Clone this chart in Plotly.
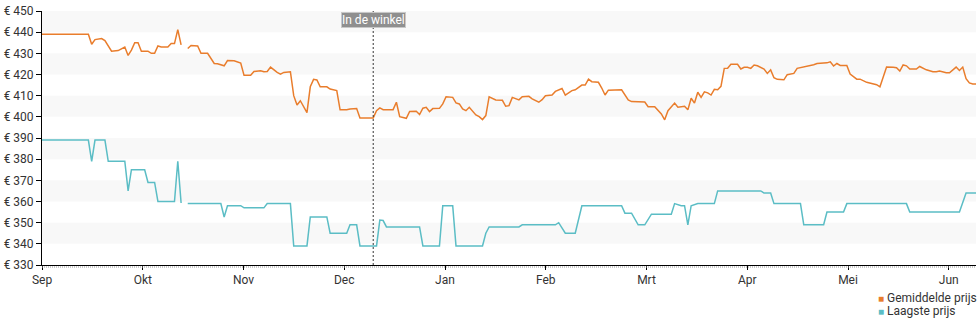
import plotly.graph_objects as go

# Month labels on the x axis (axis unit: days since the first point)
MONTHS = ["Sep", "Okt", "Nov", "Dec", "Jan", "Feb", "Mrt", "Apr", "Mei", "Jun"]
DAYS_PER_MONTH = 30.42
LAST_DAY = 282

# Average price ("Gemiddelde prijs")
AVG_DAY = [0, 14, 15, 16, 18, 19, 21, 23, 25, 26, 27, 28, 29, 30, 32, 33, 34, 35, 36, 38,
           39, 40, 41, 42, 43, 44, 45, 47, 48, 50, 52, 53, 55, 56, 58, 60, 61, 63, 64, 66,
           67, 68, 69, 71, 72, 73, 75, 76, 77, 78, 80, 81, 82, 83, 84, 86, 87, 89, 90, 92,
           93, 95, 96, 100, 101, 102, 103, 106, 107, 108, 110, 111, 113, 114, 115, 116, 117, 118, 120, 121,
           122, 124, 125, 126, 127, 128, 129, 131, 132, 133, 134, 135, 137, 139, 140, 141, 142, 144, 145, 147,
           148, 150, 151, 152, 154, 155, 157, 158, 160, 161, 163, 164, 165, 166, 168, 169, 170, 171, 173, 175,
           177, 178, 182, 183, 185, 187, 188, 189, 191, 192, 194, 195, 196, 197, 198, 199, 200, 201, 202, 203,
           204, 205, 206, 207, 208, 210, 211, 212, 213, 214, 215, 216, 218, 219, 220, 221, 222, 224, 225, 227,
           228, 229, 231, 233, 234, 237, 238, 239, 240, 241, 243, 244, 246, 247, 249, 250, 252, 253, 255, 257,
           258, 259, 260, 261, 262, 264, 265, 267, 269, 270, 271, 273, 274, 276, 277, 278, 279, 280, 281, 282]
AVG_PRICE = [439, 439, 434.3, 436.5, 437, 436, 431, 431.3, 433, 429, 431.5, 435, 435, 431, 431, 430, 430, 433.5, 433, 433,
             434.6, 434.6, 441.2, 434, None, 432.3, 433.7, 433.5, 430, 430, 425.2, 425.1, 424.1, 426.6, 426.5, 425.4, 419.6, 419.6, 421.4, 421.8,
             421.3, 421.4, 423.5, 421, 420.2, 421, 421.3, 410, 405.6, 407.6, 402, 414.2, 417.7, 417.4, 414.2, 414.2, 413.1, 412.4, 403.3, 403.3,
             403.7, 403.9, 399.5, 399.5, 402.9, 404.2, 403.4, 403.4, 406.9, 400.1, 399.3, 402.5, 402.6, 401.1, 404.1, 404.5, 402.5, 403.9, 404, 406.1,
             409.5, 409.2, 406.6, 406.1, 403.7, 402.9, 404.5, 400.9, 400.1, 398.7, 400.6, 409.5, 408, 407.8, 405, 405.3, 409.2, 408, 409.5, 409.7,
             408.5, 406.9, 408.1, 410, 410.3, 412, 413.4, 410.3, 412.4, 412.8, 415, 415, 417.8, 416.6, 416.3, 413.6, 410.3, 412.6, 412.8, 412.8,
             408, 407.2, 407, 404.8, 404.8, 401.4, 398.6, 402.9, 406.5, 404.5, 405, 403.3, 408.8, 406.5, 411.6, 409.2, 411.8, 411.3, 410.3, 413,
             412.8, 414.4, 422.9, 423, 424.8, 424.8, 422.6, 423.4, 423.4, 422.9, 424.5, 424.1, 422.6, 420.5, 422.2, 418.5, 417.7, 417.5, 419.9, 420.5,
             422.9, 423.2, 424, 424.6, 425.2, 425.5, 426, 424, 425.2, 424.3, 424.3, 420.2, 417.8, 417.8, 416.3, 416, 415.2, 414.2, 423.5, 423.4,
             423.2, 421.6, 424.5, 424.1, 422.6, 422.6, 423.8, 422.2, 421.3, 421.3, 421.6, 420.8, 420.8, 423.5, 421.9, 423.5, 418, 416, 415.5, 415.5]

# Lowest price ("Laagste prijs")
LOW_DAY = [0, 14, 15, 16, 19, 20, 25, 26, 27, 31, 32, 34, 35, 40, 41, 42, 43, 44, 54, 55,
           56, 60, 61, 67, 68, 75, 76, 80, 81, 86, 87, 92, 93, 95, 96, 101, 102, 103, 104, 114,
           115, 120, 121, 124, 125, 133, 134, 135, 144, 145, 155, 156, 158, 161, 163, 175, 176, 178, 180, 182,
           184, 190, 191, 193, 194, 195, 196, 198, 203, 204, 217, 218, 220, 221, 229, 230, 236, 237, 242, 243,
           261, 262, 277, 279, 282]
LOW_PRICE = [389, 389, 379, 389, 389, 379, 379, 365, 375, 375, 369, 369, 360, 360, 379, 359.3, None, 359, 359, 352.7,
             358, 358, 357, 357, 359, 359, 339, 339, 352.7, 352.7, 345, 345, 349, 349, 339, 339, 351.2, 351, 348, 348,
             339, 339, 358, 358, 339, 339, 345, 348, 348, 349, 349, 350, 345, 345, 358, 358, 354.5, 354.5, 349, 349,
             354, 354, 359, 358, 358, 349, 358, 359, 359, 365, 365, 364, 364, 359, 359, 349, 349, 355, 355, 359,
             359, 355, 355, 364, 364]

STORE_DAY = 100
STORE_LABEL = "In de winkel"

Y_MIN, Y_MAX, Y_STEP = 330, 450, 10

AVG_COLOR = "#e97d2c"
LOW_COLOR = "#5bbdc5"
TEXT_COLOR = "#333333"
FONT = "Roboto"

fig = go.Figure()
fig.add_trace(go.Scatter(x=AVG_DAY, y=AVG_PRICE, mode="lines", name="Gemiddelde prijs",
                         line=dict(color=AVG_COLOR, width=1.5), connectgaps=False,
                         showlegend=False))
fig.add_trace(go.Scatter(x=LOW_DAY, y=LOW_PRICE, mode="lines", name="Laagste prijs",
                         line=dict(color=LOW_COLOR, width=1.5), connectgaps=False,
                         showlegend=False))

shapes = []
# Alternating light bands behind the plot
for lo in range(Y_MIN + Y_STEP, Y_MAX, 2 * Y_STEP):
    shapes.append(dict(type="rect", xref="paper", x0=0, x1=1, yref="y", y0=lo, y1=lo + Y_STEP,
                       fillcolor="#f8f8f8", line=dict(width=0), layer="below"))
# Dotted strip just under the x axis
shapes.append(dict(type="line", xref="paper", x0=0, x1=1, yref="paper", ysizemode="pixel",
                   yanchor=0, y0=-2, y1=-2, line=dict(color="#999999", width=1, dash="1px,1px")))
# Dotted marker line for the in-store date
shapes.append(dict(type="line", xref="x", x0=STORE_DAY, x1=STORE_DAY, yref="paper", y0=0, y1=1,
                   line=dict(color="#333333", width=1, dash="2px,2px")))

annotations = [
    dict(x=STORE_DAY, xref="x", y=1, yref="paper", yanchor="middle", yshift=-9,
         text=STORE_LABEL, showarrow=False, font=dict(family=FONT, size=12, color="white"),
         bgcolor="#8f8f8f", bordercolor="#c8c8c8", borderwidth=1, borderpad=0),
]
legend_items = [("Gemiddelde prijs", AVG_COLOR), ("Laagste prijs", LOW_COLOR)]
for i, (label, color) in enumerate(legend_items):
    annotations.append(dict(
        x=0.893, xref="paper", xanchor="left", y=0, yref="paper", yanchor="middle",
        yshift=-33 - 13 * i, showarrow=False, align="left",
        text=f"<span style='color:{color};font-size:10px'>■</span> {label}",
        font=dict(family=FONT, size=12, color=TEXT_COLOR)))

tick_vals = [i * DAYS_PER_MONTH for i in range(len(MONTHS))]

fig.update_layout(
    width=980, height=325,
    margin=dict(l=40, r=4, t=10, b=60),
    paper_bgcolor="white", plot_bgcolor="white",
    font=dict(family=FONT, size=12, color=TEXT_COLOR),
    showlegend=False,
    shapes=shapes,
    annotations=annotations,
    xaxis=dict(range=[0, LAST_DAY], tickvals=tick_vals, ticktext=MONTHS,
               showgrid=False, zeroline=False, showline=True, linecolor="black", linewidth=1,
               ticks="outside", ticklen=4, tickcolor="black",
               tickfont=dict(family=FONT, size=12, color=TEXT_COLOR)),
    yaxis=dict(range=[Y_MIN, Y_MAX], dtick=Y_STEP, tick0=Y_MIN, tickprefix="€ ",
               showgrid=False, zeroline=False, showline=True, linecolor="black", linewidth=1,
               ticks="outside", ticklen=5, tickcolor="black",
               tickfont=dict(family=FONT, size=12, color=TEXT_COLOR)),
)

fig.write_html("out.html")
